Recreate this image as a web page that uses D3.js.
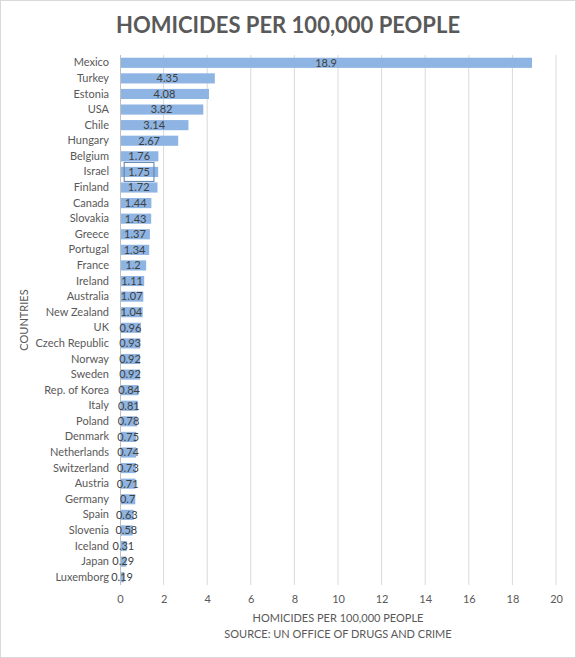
<!DOCTYPE html>
<html><head><meta charset="utf-8">
<script src="https://cdn.jsdelivr.net/npm/d3@7"></script>
<style>
body{margin:0;background:#fff;}
svg{display:block;font-family:Lato,"Open Sans",sans-serif;}
</style></head>
<body><svg id="c" width="576" height="658"></svg>
<script>
const countries = ["Mexico","Turkey","Estonia","USA","Chile","Hungary","Belgium","Israel","Finland","Canada","Slovakia","Greece","Portugal","France","Ireland","Australia","New Zealand","UK","Czech Republic","Norway","Sweden","Rep. of Korea","Italy","Poland","Denmark","Netherlands","Switzerland","Austria","Germany","Spain","Slovenia","Iceland","Japan","Luxemborg"];
const values = [18.9,4.35,4.08,3.82,3.14,2.67,1.76,1.75,1.72,1.44,1.43,1.37,1.34,1.2,1.11,1.07,1.04,0.96,0.93,0.92,0.92,0.84,0.81,0.78,0.75,0.74,0.73,0.71,0.7,0.63,0.58,0.31,0.29,0.19];
const xTicks = [0,2,4,6,8,10,12,14,16,18,20];
const labels = values.map(v => String(v));
const title = "HOMICIDES PER 100,000 PEOPLE";
const xTitle = "HOMICIDES PER 100,000 PEOPLE";
const source = "SOURCE: UN OFFICE OF DRUGS AND CRIME";
const yTitle = "COUNTRIES";

const svg = d3.select("#c");
svg.append("rect").attr("x",0.5).attr("y",0.5).attr("width",575).attr("height",657)
  .attr("fill","#fff").attr("stroke","#d9d9d9");

const x = d3.scaleLinear().domain([0,20]).range([120,556]);
const y = d3.scaleBand().domain(countries).range([55,585]).paddingInner(0.35).paddingOuter(0.175);

svg.append("text").attr("x",288).attr("y",33).attr("text-anchor","middle")
  .attr("font-size",22).attr("font-weight","bold").attr("fill","#595959").text(title);

// gridlines
svg.append("g").selectAll("line").data(xTicks.filter(t=>t>0)).join("line")
  .attr("x1",d=>x(d)).attr("x2",d=>x(d)).attr("y1",55).attr("y2",585)
  .attr("stroke","#d9d9d9").attr("stroke-width",1);

// bars
svg.append("g").selectAll("rect").data(values).join("rect")
  .attr("x",x(0)).attr("y",(d,i)=>y(countries[i]))
  .attr("width",d=>x(d)-x(0)).attr("height",y.bandwidth())
  .attr("fill","#8db4e2");

// axis line
svg.append("line").attr("x1",x(0)+0.5).attr("x2",x(0)+0.5).attr("y1",55).attr("y2",585)
  .attr("stroke","#bfbfbf");

// x axis
const xa = svg.append("g").attr("transform","translate(0,585)")
  .call(d3.axisBottom(x).tickValues(xTicks).tickSize(0).tickPadding(10));
xa.select(".domain").remove();
xa.selectAll("text").attr("font-size",11).attr("fill","#595959").attr("font-family","Lato,'Open Sans',sans-serif");

// y axis
const ya = svg.append("g").attr("transform",`translate(${x(0)},0)`)
  .call(d3.axisLeft(y).tickSize(0).tickPadding(11));
ya.select(".domain").remove();
ya.selectAll("text").attr("font-size",11).attr("fill","#595959").attr("font-family","Lato,'Open Sans',sans-serif");

// value labels
const vl = svg.append("g").selectAll("text").data(values).join("text")
  .attr("x",d=>(x(0)+x(d))/2)
  .attr("y",(d,i)=>y(countries[i])+y.bandwidth()/2)
  .attr("dy","0.35em").attr("text-anchor","middle")
  .attr("font-size",11).attr("fill","#404040").text((d,i)=>labels[i]);

// selected label box (Israel)
const iIsr = countries.indexOf("Israel");
const isrNode = vl.nodes()[iIsr];
const bb = isrNode.getBBox();
svg.append("rect").attr("x",bb.x-4).attr("y",y("Israel")+y.bandwidth()/2-9.5)
  .attr("width",bb.width+8).attr("height",19)
  .attr("fill","none").attr("stroke","#5b7fae").attr("stroke-width",1);

// axis titles
svg.append("text").attr("x",338).attr("y",622).attr("text-anchor","middle")
  .attr("font-size",11).attr("fill","#595959").text(xTitle);
svg.append("text").attr("x",338).attr("y",638).attr("text-anchor","middle")
  .attr("font-size",11).attr("fill","#595959").text(source);
svg.append("text").attr("transform","translate(28,320) rotate(-90)").attr("text-anchor","middle")
  .attr("font-size",11).attr("fill","#595959").text(yTitle);
</script></body></html>
